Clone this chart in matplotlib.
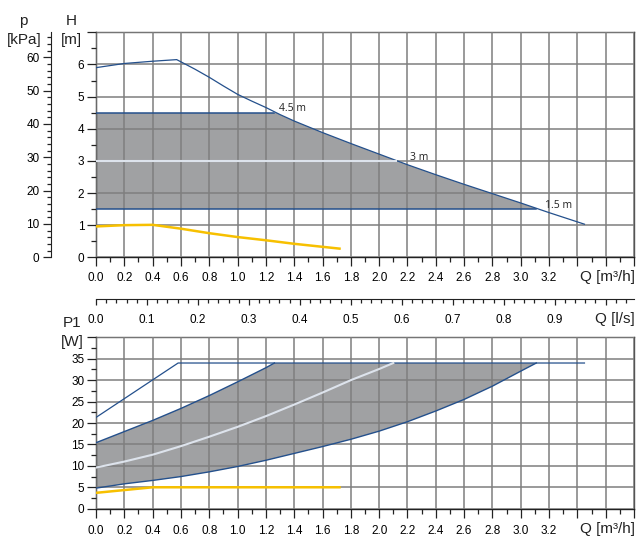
import matplotlib
matplotlib.use('Agg')
import matplotlib.pyplot as plt
import numpy as np
from matplotlib.patches import Polygon
from matplotlib.ticker import MultipleLocator, FixedLocator, FixedFormatter

plt.rcParams['font.family'] = ['Liberation Sans', 'DejaVu Sans']

#%% data
# head curve at max speed, Q [m3/h] -> H [m]
q_max = [0.0, 0.2, 0.4, 0.57, 0.7, 0.8, 0.9, 1.0, 1.1, 1.2, 1.3, 1.4, 1.6, 1.8, 2.0, 2.2, 2.4, 2.6, 2.8, 3.0, 3.2, 3.45]
h_max = [5.9, 6.03, 6.10, 6.15, 5.85, 5.6, 5.33, 5.07, 4.86, 4.66, 4.44, 4.24, 3.88, 3.54, 3.21, 2.88, 2.57, 2.27, 1.98, 1.69, 1.39, 1.03]

# constant pressure setpoints and where they meet the max curve
setpoint_h = [4.5, 3.0, 1.5]
setpoint_qend = [1.26, 2.12, 3.11]
setpoint_labels = ['4.5 m', '3 m', '1.5 m']

# min speed head curve (yellow)
q_min = [0.0, 0.2, 0.4, 0.6, 0.8, 1.0, 1.2, 1.4, 1.72]
h_min = [0.96, 1.0, 1.01, 0.89, 0.75, 0.63, 0.53, 0.42, 0.27]

# power P1 [W]
q_p_max = [0.0, 0.58, 3.45]
p_max = [21.3, 34.0, 34.0]

q_p45 = [0.0, 0.2, 0.4, 0.6, 0.8, 1.0, 1.2, 1.26]
p_45 = [15.4, 18.0, 20.6, 23.4, 26.4, 29.6, 32.9, 34.0]

q_p30 = [0.0, 0.2, 0.4, 0.6, 0.8, 1.0, 1.2, 1.4, 1.6, 1.8, 2.0, 2.1]
p_30 = [9.6, 11.0, 12.6, 14.6, 16.8, 19.1, 21.6, 24.3, 27.1, 30.0, 32.6, 34.0]

q_p15 = [0.0, 0.2, 0.4, 0.6, 0.8, 1.0, 1.2, 1.4, 1.6, 1.8, 2.0, 2.2, 2.4, 2.6, 2.8, 3.0, 3.11]
p_15 = [4.8, 5.8, 6.6, 7.5, 8.6, 9.85, 11.3, 12.9, 14.5, 16.2, 18.1, 20.3, 22.8, 25.5, 28.6, 32.1, 34.0]

q_p_min = [0.0, 0.4, 1.72]
p_min = [3.7, 5.0, 5.0]

q_ticks = [round(0.2 * i, 1) for i in range(20)]
q_ticklabels = ['%.1f' % q if q <= 3.2 else '' for q in q_ticks]
ls_ticks = [round(0.1 * i, 1) for i in range(11)]
ls_ticklabels = ['%.1f' % v if v < 1.0 else '' for v in ls_ticks]
h_ticks = list(range(8))
h_ticklabels = [str(v) for v in h_ticks[:-1]] + ['']
w_ticks = list(range(0, 45, 5))
w_ticklabels = [str(v) for v in w_ticks[:-1]] + ['']
p_ticks = list(range(0, 70, 10))

#%% styles
W, H = 636, 538
BLUE = '#24508c'
YELLOW = '#f7c000'
LIGHT = '#dde3ec'
FILL = '#a0a1a3'
GRID = '#7f7f7f'
DARK = '#222222'


def px_box(left, top, right, bottom):
    return [left / W, 1 - bottom / H, (right - left) / W, (bottom - top) / H]


def style_axis(ax, ymax, yticks, yminor, ylabels, pad_x):
    ax.set_xlim(0, 3.8)
    ax.set_ylim(0, ymax)
    ax.xaxis.set_major_locator(FixedLocator(q_ticks))
    ax.xaxis.set_major_formatter(FixedFormatter(q_ticklabels))
    ax.xaxis.set_minor_locator(MultipleLocator(0.1))
    ax.yaxis.set_major_locator(FixedLocator(yticks))
    ax.yaxis.set_major_formatter(FixedFormatter(ylabels))
    ax.yaxis.set_minor_locator(MultipleLocator(yminor))
    ax.grid(which='major', color=GRID, lw=1.1)
    ax.set_axisbelow(False)
    for s in ax.spines.values():
        s.set_color('#555555')
        s.set_linewidth(1.0)
    ax.spines['left'].set_color(DARK)
    ax.spines['bottom'].set_color(DARK)
    ax.tick_params(which='major', length=6.5, width=0.9, color=DARK, labelsize=8.5)
    ax.tick_params(which='minor', length=3.6, width=0.9, color=DARK)
    ax.tick_params(axis='x', pad=pad_x)
    ax.tick_params(axis='y', pad=2)


fig = plt.figure(figsize=(W / 100, H / 100), dpi=100)

#%% head chart
ax_h = fig.add_axes(px_box(96, 32.3, 634, 257.3))
style_axis(ax_h, 7, h_ticks, 0.5, h_ticklabels, 4)

under_max = Polygon(np.c_[q_max + [q_max[-1], 0], h_max + [0, 0]],
                    closed=True, transform=ax_h.transData)
band = ax_h.fill_between([0, q_max[-1]], setpoint_h[-1], setpoint_h[0],
                         facecolor=FILL, edgecolor='none', zorder=1)
band.set_clip_path(under_max)

ax_h.plot(q_max, h_max, color=BLUE, lw=0.9, zorder=3)
for h, qend in zip(setpoint_h, setpoint_qend):
    if h == 3.0:
        ax_h.plot([0, qend], [h, h], color=LIGHT, lw=1.5, zorder=3)
    else:
        ax_h.plot([0, qend], [h, h], color=BLUE, lw=1.1, zorder=3)
ax_h.plot(q_min, h_min, color=YELLOW, lw=1.8, zorder=3)

label_pos = [(1.29, 4.62), (2.22, 3.12), (3.17, 1.62)]
for (x, y), txt in zip(label_pos, setpoint_labels):
    ax_h.text(x, y, txt, fontsize=7.5, family=['Open Sans', 'DejaVu Sans'],
              color=DARK, ha='left', va='center', zorder=4)

# pressure axis in kPa
ax_p = fig.add_axes(px_box(50.7, 32.3, 50.8, 257.3))
ax_p.set_ylim(0, 67.5)
ax_p.set_xticks([])
for side in ['top', 'right', 'bottom']:
    ax_p.spines[side].set_visible(False)
ax_p.spines['left'].set_color(DARK)
ax_p.yaxis.set_major_locator(FixedLocator(p_ticks))
ax_p.yaxis.set_minor_locator(MultipleLocator(2))
ax_p.tick_params(which='major', length=6, width=0.9, color=DARK, labelsize=8.5, pad=2)
ax_p.tick_params(which='minor', length=3, width=0.9, color=DARK)

#%% l/s axis
ax_ls = fig.add_axes(px_box(96, 298.9, 634, 299))
ax_ls.set_xlim(0, 3.8 / 3.6)
ax_ls.set_yticks([])
for side in ['top', 'right', 'left']:
    ax_ls.spines[side].set_visible(False)
ax_ls.spines['bottom'].set_color(DARK)
ax_ls.xaxis.set_major_locator(FixedLocator(ls_ticks))
ax_ls.xaxis.set_major_formatter(FixedFormatter(ls_ticklabels))
ax_ls.xaxis.set_minor_locator(MultipleLocator(0.02))
ax_ls.tick_params(which='major', length=4.5, width=0.9, color=DARK, labelsize=8.5, pad=6)
ax_ls.tick_params(which='minor', length=3, width=0.9, color=DARK)

#%% power chart
ax_w = fig.add_axes(px_box(96, 337.3, 634, 508.7))
style_axis(ax_w, 40, w_ticks, 2.5, w_ticklabels, 5)

ax_w.fill(q_p45 + [setpoint_qend[-1]] + q_p15[::-1],
          p_45 + [p_15[-1]] + p_15[::-1],
          facecolor=FILL, edgecolor='none', zorder=1)
ax_w.plot(q_p_max, p_max, color=BLUE, lw=0.9, zorder=3)
ax_w.plot(q_p45, p_45, color=BLUE, lw=1.0, zorder=3)
ax_w.plot(q_p30, p_30, color=LIGHT, lw=1.5, zorder=3)
ax_w.plot(q_p15, p_15, color=BLUE, lw=1.0, zorder=3)
ax_w.plot(q_p_min, p_min, color=YELLOW, lw=1.8, zorder=3)

#%% axis titles
def fig_text(x, y, s, ha='center'):
    fig.text(x / W, 1 - y / H, s, fontsize=11, ha=ha, va='center', color=DARK)


fig_text(23, 21, 'p')
fig_text(24, 40, '[kPa]')
fig_text(71, 21, 'H')
fig_text(71, 40, '[m]')
fig_text(72, 323, 'P1')
fig_text(72, 342, '[W]')
fig_text(635, 277, 'Q [m³/h]', ha='right')
fig_text(635, 319, 'Q [l/s]', ha='right')
fig_text(635, 529, 'Q [m³/h]', ha='right')

fig.savefig('out.png', dpi=100)
